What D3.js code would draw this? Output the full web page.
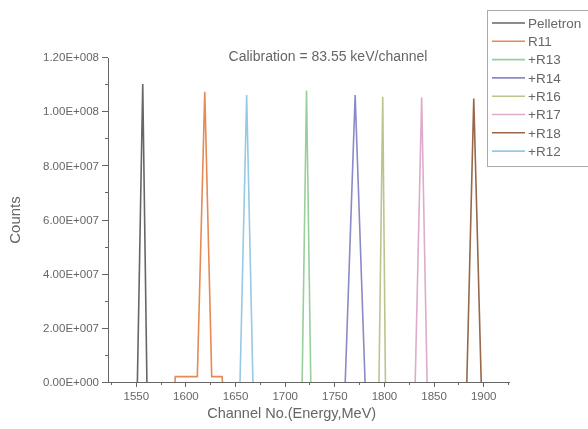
<!DOCTYPE html>
<html lang="en">

<head>
    <meta charset="UTF-8">
    <title>Calibration peaks</title>
    <style>
        body {
            margin: 0;
            background: #fff;
        }

        .chart {
            filter: blur(0.5px);
        }

        .chart text {
            font-family: Arial, "Liberation Sans", sans-serif;
            fill: #666;
        }

        .axis path,
        .axis line {
            fill: none;
            stroke: #666;
            shape-rendering: crispEdges;
        }

        .peak {
            fill: none;
            stroke-width: 1.6;
        }
    </style>
</head>

<body>
    <svg class="chart"></svg>
    <script src="https://d3js.org/d3.v7.min.js"></script>
    <script>
        // series names, legend order
        let names = ["Pelletron", "R11", "+R13", "+R14", "+R16", "+R17", "+R18", "+R12"];
        let colors = ["#666666", "#e58a55", "#98cf9a", "#8a8ac8", "#c0c28e", "#ddaccb", "#98684a", "#96c9e3"];

        // [channel, counts] points of each peak
        let pelletron = [[1551.6, 0], [1557, 1.10e8], [1561.2, 0]];
        let r11 = [[1589.5, 0], [1589.8, 2.0e6], [1612, 2.0e6], [1619.5, 1.072e8], [1626.5, 2.0e6], [1637, 2.0e6], [1637.3, 0]];
        let r13 = [[1717.6, 0], [1722, 1.076e8], [1726.3, 0]];
        let r14 = [[1761, 0], [1771, 1.06e8], [1781, 0]];
        let r16 = [[1795, 0], [1798.8, 1.053e8], [1801.5, 0]];
        let r17 = [[1831.5, 0], [1838, 1.051e8], [1843.5, 0]];
        let r18 = [[1883.5, 0], [1890.5, 1.047e8], [1898, 0]];
        let r12 = [[1655, 0], [1661.7, 1.06e8], [1668, 0]];
        let seriesData = [pelletron, r11, r13, r14, r16, r17, r18, r12];

        let xTicks = [1550, 1600, 1650, 1700, 1750, 1800, 1850, 1900];
        let yTicks = [0, 2e7, 4e7, 6e7, 8e7, 1e8, 1.2e8];
        let yTickLabels = ["0.00E+000", "2.00E+007", "4.00E+007", "6.00E+007", "8.00E+007", "1.00E+008", "1.20E+008"];

        let width = 588, height = 429;
        let margin = { top: 57, right: 79, bottom: 47, left: 108 };
        let w = width - margin.left - margin.right,
            h = height - margin.top - margin.bottom;

        let svg = d3.select(".chart")
            .attr("width", width)
            .attr("height", height);

        let chart = svg.append("g")
            .attr("transform", `translate(${margin.left},${margin.top})`);

        let x = d3.scaleLinear().domain([1522, 1926]).range([0, w]);
        let y = d3.scaleLinear().domain([0, 1.2e8]).range([h, 0]);

        // minor ticks
        let xMinor = d3.range(1525, 1926, 25).filter(v => !xTicks.includes(v));
        let yMinor = d3.range(1e7, 1.2e8, 2e7);

        chart.append("g")
            .attr("class", "axis axis--x-minor")
            .attr("transform", `translate(0,${h})`)
            .call(d3.axisBottom(x).tickValues(xMinor).tickSize(3).tickFormat(""))
            .select(".domain").remove();

        chart.append("g")
            .attr("class", "axis axis--y-minor")
            .call(d3.axisLeft(y).tickValues(yMinor).tickSize(3).tickFormat(""))
            .select(".domain").remove();

        let xAxis = chart.append("g")
            .attr("class", "axis axis--x")
            .attr("transform", `translate(0,${h})`)
            .call(d3.axisBottom(x).tickValues(xTicks).tickSize(5).tickSizeOuter(0).tickPadding(5)
                .tickFormat(d3.format("d")));
        xAxis.selectAll("text").style("font-size", "11.5px");

        let yAxis = chart.append("g")
            .attr("class", "axis axis--y")
            .call(d3.axisLeft(y).tickValues(yTicks).tickSize(6).tickSizeOuter(0).tickPadding(3)
                .tickFormat((d, i) => yTickLabels[i]));
        yAxis.selectAll("text").style("font-size", "11.5px");

        // peaks
        let line = d3.line()
            .x(d => x(d[0]))
            .y(d => y(d[1]));

        chart.selectAll(".peak")
            .data(seriesData)
            .enter().append("path")
            .attr("class", "peak")
            .attr("stroke", (d, i) => colors[i])
            .attr("d", line);

        // titles
        svg.append("text")
            .attr("x", 328)
            .attr("y", 61)
            .style("text-anchor", "middle")
            .style("font-size", "14px")
            .text("Calibration = 83.55 keV/channel");

        svg.append("text")
            .attr("x", margin.left + x(1700) + 7)
            .attr("y", 418)
            .style("text-anchor", "middle")
            .style("font-size", "14.5px")
            .text("Channel No.(Energy,MeV)");

        svg.append("text")
            .attr("transform", "rotate(-90)")
            .attr("x", -220)
            .attr("y", 20)
            .style("text-anchor", "middle")
            .style("font-size", "15px")
            .text("Counts");

        // legend
        let legend = svg.append("g")
            .attr("transform", "translate(487,10)");

        legend.append("rect")
            .attr("width", 110)
            .attr("height", 156)
            .attr("fill", "#fff")
            .attr("stroke", "#aaa")
            .attr("shape-rendering", "crispEdges");

        let item = legend.selectAll(".item")
            .data(names)
            .enter().append("g")
            .attr("class", "item")
            .attr("transform", (d, i) => `translate(0,${13 + i * 18.3})`);

        item.append("line")
            .attr("x1", 5)
            .attr("x2", 38)
            .attr("stroke", (d, i) => colors[i])
            .attr("stroke-width", 1.6);

        item.append("text")
            .attr("x", 41)
            .attr("dy", "0.35em")
            .style("font-size", "13.5px")
            .text(d => d);
    </script>
</body>

</html>
